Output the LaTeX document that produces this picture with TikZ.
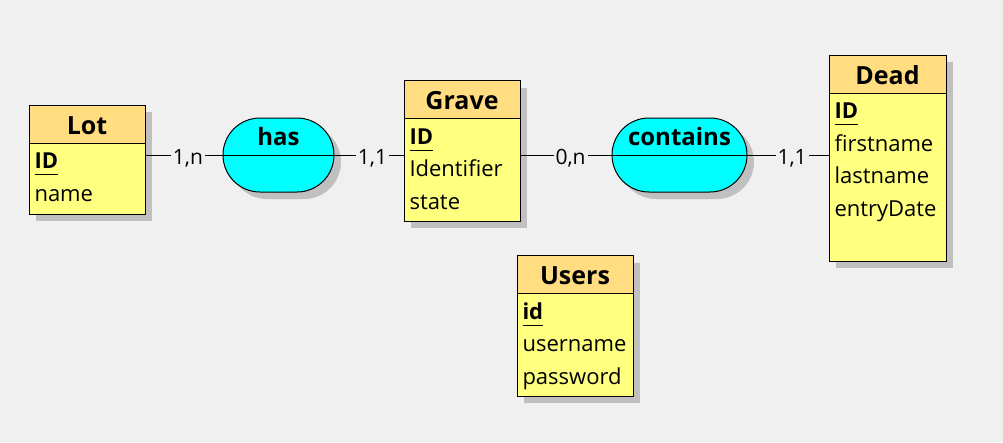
\documentclass[tikz,border=0pt]{standalone}
\usepackage{fontspec}
\setmainfont{Open Sans}
\usetikzlibrary{positioning,shadows}

\definecolor{fondo}{RGB}{240,240,240}
\definecolor{cabeza}{RGB}{255,221,128}
\definecolor{relleno}{RGB}{255,255,128}
\definecolor{sombra}{RGB}{192,192,192}
\definecolor{cian}{RGB}{0,255,255}

\newcommand\clave[1]{\setbox0\hbox{\bfseries #1}\rlap{\rule[-6.5pt]{\wd0}{1pt}}\box0}

\tikzset{
  estilo mcd/.style={
      x=1pt, y=-1pt,
      line width=1pt,
      sombreado/.style={drop shadow={shadow xshift=7pt, shadow yshift=-7pt, fill=sombra, opacity=1}},
      cabecera/.style={rectangle, draw, fill=cabeza, sombreado, anchor=north west, minimum height=38pt, inner sep=0pt, outer sep=0pt, text height=20pt, text depth=0pt, font={\fontsize{25}{30}\selectfont\bfseries}},
      cuerpo/.style={rectangle, draw, fill=relleno, sombreado, inner sep=0pt, outer sep=0pt},
      atributo/.style={anchor=base west, inner sep=0pt, font={\fontsize{22}{26}\selectfont}},
      relacion/.style={rectangle, rounded corners=37pt, draw, fill=cian, sombreado, minimum height=74pt, inner sep=0pt, outer sep=0pt},
      nomrel/.style={anchor=base, inner sep=0pt, font={\fontsize{24}{28}\selectfont\bfseries}},
      card/.style={fill=fondo, pos=0.55, inner xsep=2pt, inner ysep=0pt, text height=18pt, text depth=0pt, font={\fontsize{21}{24}\selectfont}},
    },
}

\begin{document}
\begin{tikzpicture}[estilo mcd]
  \fill[fondo] (0,0) rectangle (1003,442);

  % entidades
  \node[cabecera, minimum width=116pt] (lot) at (29,105) {Lot};
  \node[cuerpo, minimum width=116pt, minimum height=71pt, below=0pt of lot] (lotcue) {};
  \node[atributo] (lotid) at ([shift={(5,25.5)}]lotcue.north west) {\clave{ID}};
  \node[atributo] (lotname) at ([yshift=-32.5pt]lotid.base west) {name};

  \node[cabecera, minimum width=116pt] (grave) at (404,80.5) {Grave};
  \node[cuerpo, minimum width=116pt, minimum height=102.5pt, below=0pt of grave] (gravecue) {};
  \node[atributo] (graveid) at ([shift={(5,25.5)}]gravecue.north west) {\clave{ID}};
  \node[atributo] (graveident) at ([yshift=-32.5pt]graveid.base west) {Identifier};
  \node[atributo] (gravestate) at ([yshift=-32.5pt]graveident.base west) {state};

  \node[cabecera, minimum width=117pt] (dead) at (829,55) {Dead};
  \node[cuerpo, minimum width=117pt, minimum height=168pt, below=0pt of dead] (deadcue) {};
  \node[atributo] (deadid) at ([shift={(5,25.5)}]deadcue.north west) {\clave{ID}};
  \node[atributo] (deadfirst) at ([yshift=-32.5pt]deadid.base west) {firstname};
  \node[atributo] (deadlast) at ([yshift=-32.5pt]deadfirst.base west) {lastname};
  \node[atributo] (deadentry) at ([yshift=-32.5pt]deadlast.base west) {entryDate};

  \node[cabecera, minimum width=116pt] (users) at (517,255.5) {Users};
  \node[cuerpo, minimum width=116pt, minimum height=102.5pt, below=0pt of users] (userscue) {};
  \node[atributo] (usersid) at ([shift={(5,25.5)}]userscue.north west) {\clave{id}};
  \node[atributo] (usersname) at ([yshift=-32.5pt]usersid.base west) {username};
  \node[atributo] (userspass) at ([yshift=-32.5pt]usersname.base west) {password};

  % asociaciones
  \node[relacion, minimum width=111pt] (has) at (278.5,155) {};
  \node[nomrel] (hasnom) at ([yshift=10pt]has.center) {has};
  \node[relacion, minimum width=135pt] (contains) at (679.5,155) {};
  \node[nomrel] (containsnom) at ([yshift=10pt]contains.center) {contains};
  \draw (has.west) -- (has.east);
  \draw (contains.west) -- (contains.east);

  % patas
  \draw (lotcue.east |- has.west) -- node[card] (c1) {1,n} (has.west);
  \draw (has.east) -- node[card] (c2) {1,1} (has.east -| gravecue.west);
  \draw (gravecue.east |- contains.west) -- node[card] (c3) {0,n} (contains.west);
  \draw (contains.east) -- node[card] (c4) {1,1} (contains.east -| deadcue.west);
\end{tikzpicture}
\end{document}
